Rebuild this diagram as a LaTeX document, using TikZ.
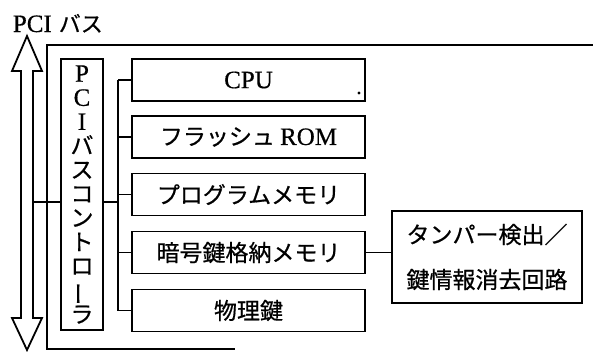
\documentclass[tikz,border=0pt]{standalone}
\usepackage{fontspec}
\setmainfont{Liberation Serif}[FakeBold=0.5]
\newfontfamily\jp{Noto Sans CJK JP}[FakeBold=0.6]
\newcommand\lat[1]{{\fontsize{25}{28}\selectfont\rmfamily #1}}
\begin{document}
\begin{tikzpicture}[x=1pt,y=-1pt,line width=1.8pt,line join=miter,
  unit/.style={draw,minimum width=233pt,minimum height=42pt,inner sep=0pt,
    font=\fontsize{23}{27}\selectfont\jp},
  ctrlbox/.style={draw,minimum width=42pt,minimum height=271pt,inner sep=0pt,
    align=center,font=\fontsize{23}{24.1}\selectfont\jp},
  tamperbox/.style={draw,minimum width=190pt,minimum height=92pt,inner sep=0pt,
    align=center,font=\fontsize{23}{45}\selectfont\jp}]
\useasboundingbox (0,0) rectangle (593,351);
% PCI bus label
\node[anchor=base west,inner sep=0pt] (buslabel) at (12,32) {\lat{PCI}\hspace{7pt}{\fontsize{22}{26}\selectfont\jp バス}};
% double arrow (bus)
\draw (27,36) -- (42,71) -- (33,71) -- (33,318) -- (42,318) -- (27,350)
  -- (12,318) -- (21,318) -- (21,71) -- (12,71) -- cycle;
\coordinate (busR) at (33,202);
% board outline
\draw (593,45) -- (47,45) -- (47,349) -- (235,349);
% controller
\node[ctrlbox] (ctrl) at (82,194.5) {\lat{P}\\\lat{C}\\\lat{I}\\バ\\ス\\コ\\ン\\ト\\ロ\\\rotatebox[origin=c]{90}{ー}\\ラ};
% units
\node[unit] (cpu) at (248.5,80) {\lat{CPU}};
\node[unit] (flash) at (248.5,137) {フラッシュ \lat{ROM}};
\node[unit] (prog) at (248.5,194.5) {プログラムメモリ};
\node[unit] (crypt) at (248.5,252.5) {暗号鍵格納メモリ};
\node[unit] (phys) at (248.5,310.5) {物理鍵};
\fill (359,93) circle (1.6);
\node[tamperbox] (tamper) at (487,257) {タンパー検出／\\鍵情報消去回路};
% connectors
\coordinate (bj) at (118,202);
\draw (busR) -- (busR -| ctrl.west);
\draw (bj -| ctrl.east) -- (bj);
\draw (cpu.west -| bj) -- (phys.west -| bj);
\foreach \n in {cpu,flash,prog,crypt,phys} \draw (\n.west -| bj) -- (\n.west);
\draw (crypt.east) -- (crypt.east -| tamper.west);
\end{tikzpicture}
\end{document}
